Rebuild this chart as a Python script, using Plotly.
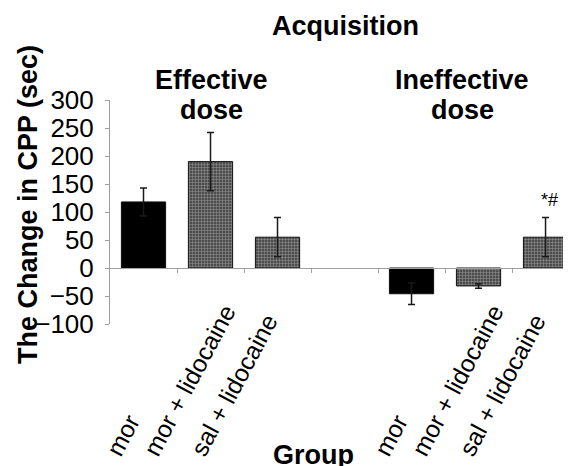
import plotly.graph_objects as go

# ---- data ----
x_pos = [0, 1, 2, 4, 5, 6]
bar_labels = ["mor", "mor + lidocaine", "sal + lidocaine", "mor", "mor + lidocaine", "sal + lidocaine"]
means = [118, 190, 55, -46, -32, 55]
sems = [25, 52, 35, 19, 4, 35]
group_titles = ["Effective", "dose", "Ineffective", "dose"]
y_ticks = [300, 250, 200, 150, 100, 50, 0, -50, -100]
sig_mark = "*#"

# page body margin of the browser (8px) is compensated
OFF = 8
W, H = 571 - OFF, 466 - OFF
L, R, T, B = 110 - OFF, 0, 100 - OFF, 466 - 324
pw, ph = W - L - R, H - T - B

def px(xw):
    return (xw - OFF - L) / pw

def py(yw):
    return (H - B - (yw - OFF)) / ph

fill = ["#000000" if lab == "mor" else "#4d4d4d" for lab in bar_labels]
shape = ["" if lab == "mor" else "+" for lab in bar_labels]

fig = go.Figure()
fig.add_trace(go.Bar(
    x=x_pos, y=means,
    width=0.66,
    marker=dict(color=fill, line=dict(color="#111111", width=1),
                pattern=dict(shape=shape, fgcolor="#5e5e5e", bgcolor="#474747",
                             size=3, solidity=0.25)),
    error_y=dict(type="data", array=sems, visible=True, color="#1a1a1a",
                 thickness=1.5, width=3.5),
    showlegend=False,
))

font_family = "Liberation Sans, Arial, sans-serif"

fig.update_layout(
    width=W, height=H,
    margin=dict(l=L, r=R, t=T, b=B, autoexpand=False),
    paper_bgcolor="white", plot_bgcolor="white",
    font=dict(family=font_family, color="black"),
    xaxis=dict(
        range=[-0.5, 6.38],
        tickmode="array", tickvals=[0.5, 1.5, 2.5, 3.5, 4.5, 5.5],
        ticks="outside", ticklen=4, tickcolor="#a0a0a0", tickwidth=1,
        showticklabels=False, showgrid=False, zeroline=False,
        showline=True, linecolor="#a0a0a0", linewidth=1,
        anchor="free", position=0.25,
    ),
    yaxis=dict(
        range=[-100, 300],
        tickmode="array", tickvals=y_ticks,
        ticks="outside", ticklen=4, tickcolor="#a0a0a0", tickwidth=1,
        showgrid=False, zeroline=False,
        showline=True, linecolor="#a0a0a0", linewidth=1,
        tickfont=dict(size=26, family=font_family, color="black"),
        ticklabelstandoff=6,
    ),
)

ann = []
ann.append(dict(text="<b>Acquisition</b>", x=px(345), y=py(26), xref="paper", yref="paper",
                showarrow=False, font=dict(size=27), xanchor="center", yanchor="middle"))
for (txt, cx, cy) in [(group_titles[0], 211, 80), (group_titles[1], 211, 110),
                      (group_titles[2], 462, 80), (group_titles[3], 462, 110)]:
    ann.append(dict(text=f"<b>{txt}</b>", x=px(cx), y=py(cy), xref="paper", yref="paper",
                    showarrow=False, font=dict(size=27), xanchor="center", yanchor="middle"))
ann.append(dict(text="<b>The Change in CPP (sec)</b>", x=px(28), y=py(205), xref="paper", yref="paper",
                showarrow=False, font=dict(size=27), textangle=-90,
                xanchor="center", yanchor="middle"))
ann.append(dict(text="<b>Group</b>", x=px(313), y=py(438), xref="paper", yref="paper",
                showarrow=False, font=dict(size=27), xanchor="center", yanchor="top"))
label_shift = {"mor": -45, "mor + lidocaine": -75, "sal + lidocaine": -95}
for xi, lab in zip(x_pos, bar_labels):
    ann.append(dict(text=lab, x=xi, y=py(463), xref="x", yref="paper",
                    showarrow=False, font=dict(size=24.5), textangle=-62,
                    xanchor="left", yanchor="bottom", xshift=label_shift[lab]))
ann.append(dict(text=sig_mark, x=x_pos[5], y=means[5] + sems[5], xref="x", yref="y",
                showarrow=False, font=dict(size=18), xanchor="center", yanchor="bottom",
                yshift=6, xshift=4))
fig.update_layout(annotations=ann)

fig.write_html("out.html")
